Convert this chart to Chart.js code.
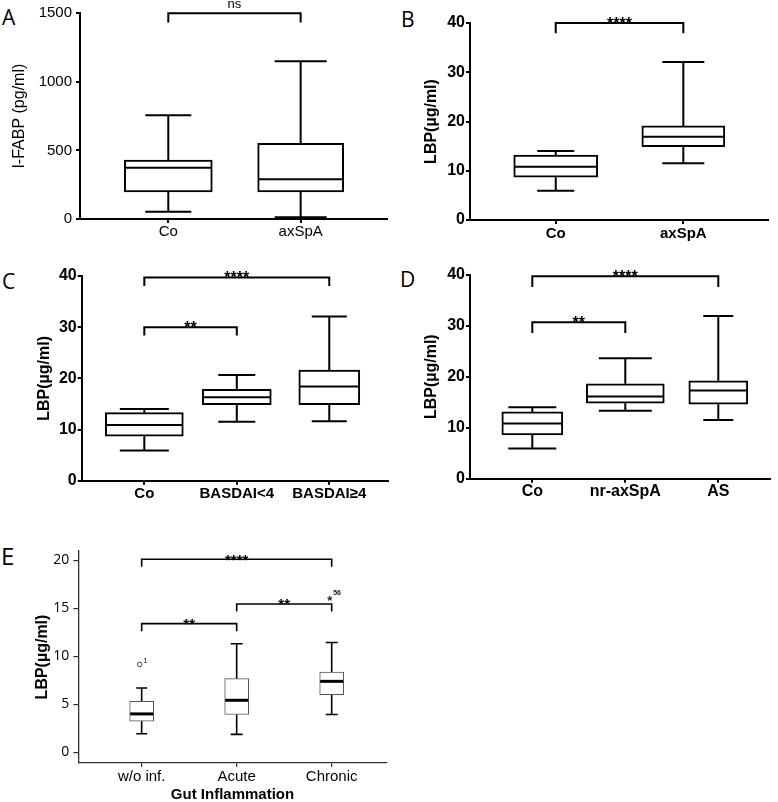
<!DOCTYPE html>
<html><head><meta charset="utf-8">
<script src="https://cdn.jsdelivr.net/npm/chart.js@4.4.1/dist/chart.umd.min.js"></script>
<style>
html,body{margin:0;padding:0;background:#fff;}
body{position:relative;width:778px;height:802px;overflow:hidden;}
.panel{position:absolute;}
.letter{position:absolute;font-family:'Open Sans',sans-serif;color:#000;line-height:1;}
</style></head><body>
<div class="letter" style="left:2px;top:7px;font-size:21px">A</div>
<div class="letter" style="left:401px;top:9px;font-size:21px">B</div>
<div class="letter" style="left:2px;top:271px;font-size:21px">C</div>
<div class="letter" style="left:400px;top:269px;font-size:21px">D</div>
<div class="letter" style="left:1px;top:544px;font-size:24px">E</div>
<script>
// ---------------- data ----------------
const catsA = ['Co', 'axSpA'];
const minA = [53, 12];
const q1A = [197, 197];
const medA = [374, 289];
const q3A = [430, 551];
const maxA = [757, 1151];
const yTicksA = [0, 500, 1000, 1500];
const sigA = [[0, 1, 1500, 'ns']];

const catsB = ['Co', 'axSpA'];
const minB = [5.95, 11.5];
const q1B = [8.7, 14.9];
const medB = [10.8, 16.9];
const q3B = [13.2, 19.1];
const maxB = [14.0, 32.1];
const yTicksB = [0, 10, 20, 30, 40];
const sigB = [[0, 1, 40, '****']];

const catsC = ['Co', 'BASDAI<4', 'BASDAI\u22654'];
const minC = [5.9, 11.5, 11.6];
const q1C = [8.7, 14.85, 14.85];
const medC = [10.9, 16.3, 18.4];
const q3C = [13.3, 17.85, 21.6];
const maxC = [14.0, 20.65, 32.1];
const yTicksC = [0, 10, 20, 30, 40];
const sigC = [[0, 2, 39.7, '****'], [0, 1, 30, '**']];

const catsD = ['Co', 'nr-axSpA', 'AS'];
const minD = [5.9, 13.3, 11.5];
const q1D = [8.6, 14.8, 14.6];
const medD = [10.8, 16.1, 17.3];
const q3D = [13.1, 18.6, 19.2];
const maxD = [14.0, 23.6, 31.9];
const yTicksD = [0, 10, 20, 30, 40];
const sigD = [[0, 2, 39.7, '****'], [0, 1, 30.7, '**']];

const catsE = ['w/o inf.', 'Acute', 'Chronic'];
const minE = [1.93, 1.87, 3.94];
const q1E = [3.25, 3.94, 6.0];
const medE = [4.0, 5.42, 7.39];
const q3E = [5.3, 7.67, 8.35];
const maxE = [6.7, 11.3, 11.43];
const yTicksE = [0, 5, 10, 15, 20];
const outCatE = [0, 2];
const outValE = [9.15, 16.1];
const outIdE = ['1', '56'];
const outShapeE = ['circle', 'star'];
const sigE = [[0, 2, 20.1, '****'], [0, 1, 13.4, '**'], [1, 2, 15.45, '**']];

// ---------------- styles / layout ----------------
const ARIAL = "'Liberation Sans', Arial, sans-serif";
const OPEN = "'Open Sans', sans-serif";

const styleA = {left:0, top:0, w:392, h:250, yW:80, padTop:13.3, padRight:5.3, xH:31,
  yMin:0, yMax:1500, yStep:500, xMin:-0.667, xMax:1.65,
  yTitle:'I-FABP (pg/ml)', yTitleFont:{family:ARIAL,size:16,weight:'normal',lineHeight:1}, yTitlePad:11.5,
  yFont:{family:ARIAL,size:15,weight:'normal',lineHeight:1}, yPad:4,
  xFont:{family:ARIAL,size:15,weight:'normal',lineHeight:1}, xPad:1,
  axisW:2, axisColor:'#000', tickW:2, tickLen:4, yTickLen:4,
  boxW:[88, 86], capW:[46, 52], boxLW:2, boxColor:'#000', whiskerLW:2, medianLW:2,
  sigLW:2, drop:9.3, starFont:'bold 16px '+ARIAL, nsFont:'13px '+ARIAL};

const styleB = {left:390, top:0, w:388, h:250, yW:80, padTop:23, padRight:9.7, xH:30,
  yMin:0, yMax:40, yStep:10, xMin:-0.672, xMax:1.666,
  yTitle:'LBP(\u00b5g/ml)', yTitleFont:{family:ARIAL,size:16,weight:'bold',lineHeight:1}, yTitlePad:33.7,
  yFont:{family:ARIAL,size:16,weight:'bold',lineHeight:1}, yPad:1,
  xFont:{family:ARIAL,size:15,weight:'bold',lineHeight:1}, xPad:2.5,
  axisW:2, axisColor:'#000', tickW:2, tickLen:4, yTickLen:4,
  boxW:[84, 83], capW:[37, 42], boxLW:2, boxColor:'#000', whiskerLW:2, medianLW:2,
  sigLW:2, drop:10.3, starFont:'bold 16px '+ARIAL, nsFont:'13px '+ARIAL};

const styleC = {left:0, top:250, w:392, h:255, yW:81.7, padTop:26, padRight:4, xH:24.3,
  yMin:0, yMax:40, yStep:10, xMin:-0.677, xMax:2.635,
  yTitle:'LBP(\u00b5g/ml)', yTitleFont:{family:ARIAL,size:16,weight:'bold',lineHeight:1}, yTitlePad:36.7,
  yFont:{family:ARIAL,size:16,weight:'bold',lineHeight:1}, yPad:1,
  xFont:{family:ARIAL,size:15,weight:'bold',lineHeight:1}, xPad:1.8,
  axisW:2, axisColor:'#000', tickW:2, tickLen:4, yTickLen:4,
  boxW:[78, 69, 61], capW:[49, 37, 35], boxLW:2, boxColor:'#000', whiskerLW:2, medianLW:2,
  sigLW:2, drop:8.4, starFont:'bold 16px '+ARIAL, nsFont:'13px '+ARIAL};

const styleD = {left:390, top:250, w:388, h:255, yW:80, padTop:24.7, padRight:8, xH:26.3,
  yMin:0, yMax:40, yStep:10, xMin:-0.67, xMax:2.556,
  yTitle:'LBP(\u00b5g/ml)', yTitleFont:{family:ARIAL,size:16,weight:'bold',lineHeight:1}, yTitlePad:33.7,
  yFont:{family:ARIAL,size:16,weight:'bold',lineHeight:1}, yPad:1,
  xFont:{family:ARIAL,size:16,weight:'bold',lineHeight:1}, xPad:0.5,
  axisW:2, axisColor:'#000', tickW:2, tickLen:4, yTickLen:4,
  boxW:[61, 78, 59], capW:[48, 53, 30], boxLW:2, boxColor:'#000', whiskerLW:2, medianLW:2,
  sigLW:2, drop:10.8, starFont:'bold 16px '+ARIAL, nsFont:'13px '+ARIAL};

const styleE = {left:0, top:540, w:392, h:262, yW:78.3, padTop:10, padRight:5.3, xH:39,
  yMin:-1.11, yMax:20.96, yStep:5, xMin:-0.667, xMax:2.579,
  yTitle:'LBP(\u00b5g/ml)', yTitleFont:{family:ARIAL,size:16,weight:'bold',lineHeight:1}, yTitlePad:34.5,
  yFont:{family:OPEN,size:14,weight:'normal',lineHeight:1}, yPad:4,
  xFont:{family:ARIAL,size:15,weight:'normal',lineHeight:1}, xPad:2,
  xTitle:'Gut Inflammation', xTitleFont:{family:ARIAL,size:15,weight:'bold',lineHeight:1}, xTitlePad:0,
  axisW:1.3, axisColor:'#333', tickW:1.2, tickLen:4, yTickLen:5,
  boxW:[24, 24, 24], capW:[11, 12, 12], boxLW:1, boxColor:'#555', whiskerLW:1.6, medianLW:3,
  sigLW:1.6, drop:7.6, starFont:'bold 15px '+ARIAL, nsFont:'13px '+ARIAL};

// ---------------- plotting ----------------
function boxPlugin(P, S) {
  return {
    id: 'boxplot' + P.id,
    beforeDatasetsDraw(chart) {
      const ctx = chart.ctx, xs = chart.scales.x, ys = chart.scales.y;
      ctx.save();
      ctx.strokeStyle = '#000';
      ctx.lineWidth = S.whiskerLW;
      P.cats.forEach((c, i) => {
        const x = xs.getPixelForValue(i);
        const yMax = ys.getPixelForValue(P.max[i]);
        const yQ3 = ys.getPixelForValue(P.q3[i]);
        const yQ1 = ys.getPixelForValue(P.q1[i]);
        const yMin = ys.getPixelForValue(P.min[i]);
        const hw = S.capW[i] / 2;
        ctx.beginPath();
        ctx.moveTo(x, yMax); ctx.lineTo(x, yQ3);
        ctx.moveTo(x, yQ1); ctx.lineTo(x, yMin);
        ctx.moveTo(x - hw, yMax); ctx.lineTo(x + hw, yMax);
        ctx.moveTo(x - hw, yMin); ctx.lineTo(x + hw, yMin);
        ctx.stroke();
      });
      ctx.restore();
    },
    afterDatasetsDraw(chart) {
      const ctx = chart.ctx, xs = chart.scales.x, ys = chart.scales.y;
      ctx.save();
      // medians
      ctx.strokeStyle = '#000';
      ctx.lineWidth = S.medianLW;
      P.cats.forEach((c, i) => {
        const x = xs.getPixelForValue(i);
        const y = ys.getPixelForValue(P.med[i]);
        const hw = S.boxW[i] / 2 - 0.5;
        ctx.beginPath();
        ctx.moveTo(x - hw, y); ctx.lineTo(x + hw, y);
        ctx.stroke();
      });
      // significance brackets
      ctx.lineWidth = S.sigLW;
      ctx.lineJoin = 'miter';
      P.sig.forEach(([a, b, level, text]) => {
        const xa = xs.getPixelForValue(a), xb = xs.getPixelForValue(b);
        const y = ys.getPixelForValue(level);
        ctx.beginPath();
        ctx.moveTo(xa, y + S.drop); ctx.lineTo(xa, y); ctx.lineTo(xb, y); ctx.lineTo(xb, y + S.drop);
        ctx.stroke();
        ctx.fillStyle = '#000';
        ctx.textAlign = 'center';
        ctx.textBaseline = 'alphabetic';
        if (text === 'ns') {
          ctx.font = S.nsFont;
          ctx.fillText(text, (xa + xb) / 2, y - 5.5);
        } else {
          ctx.font = S.starFont;
          ctx.fillText(text, (xa + xb) / 2, y + 5.5);
        }
      });
      // outliers
      if (P.outCat) {
        P.outCat.forEach((ci, k) => {
          const x = xs.getPixelForValue(ci);
          const y = ys.getPixelForValue(P.outVal[k]);
          ctx.fillStyle = '#222';
          ctx.strokeStyle = '#444';
          ctx.lineWidth = 1;
          if (P.outShape[k] === 'circle') {
            ctx.beginPath();
            ctx.arc(x - 2, y, 2.3, 0, Math.PI * 2);
            ctx.stroke();
            ctx.font = '8px ' + ARIAL;
            ctx.textAlign = 'left';
            ctx.textBaseline = 'alphabetic';
            ctx.fillText(P.outId[k], x + 1.5, y - 1.5);
          } else {
            ctx.font = 'bold 13px ' + ARIAL;
            ctx.textAlign = 'center';
            ctx.textBaseline = 'alphabetic';
            ctx.fillText('*', x - 2, y + 7.2);
            ctx.font = 'bold 7px ' + ARIAL;
            ctx.textAlign = 'left';
            ctx.fillText(P.outId[k], x + 1.5, y - 2.5);
          }
        });
      }
      ctx.restore();
    }
  };
}

function makeChart(P, S) {
  const wrap = document.createElement('div');
  wrap.className = 'panel';
  wrap.style.left = S.left + 'px';
  wrap.style.top = S.top + 'px';
  wrap.style.width = S.w + 'px';
  wrap.style.height = S.h + 'px';
  const cv = document.createElement('canvas');
  cv.width = S.w; cv.height = S.h;
  cv.style.width = S.w + 'px'; cv.style.height = S.h + 'px';
  wrap.appendChild(cv);
  document.body.appendChild(wrap);

  const datasets = P.cats.map((c, k) => ({
    label: c,
    data: P.cats.map((_, i) => ({x: i, y: i === k ? [P.q1[i], P.q3[i]] : null})),
    backgroundColor: '#fff',
    borderColor: S.boxColor,
    borderWidth: S.boxLW,
    borderSkipped: false,
    barThickness: S.boxW[k],
    skipNull: true
  }));

  const grid = (len) => ({display: true, offset: false, drawOnChartArea: false, drawTicks: true, tickLength: len,
    color: S.axisColor, lineWidth: S.tickW, tickColor: S.axisColor, tickWidth: S.tickW});

  new Chart(cv, {
    type: 'bar',
    data: {datasets},
    options: {
      responsive: false,
      animation: false,
      events: [],
      layout: {padding: {left: 0, top: S.padTop, right: S.padRight, bottom: 0}},
      plugins: {legend: {display: false}, tooltip: {enabled: false}, title: {display: false}},
      scales: {
        x: {
          type: 'linear', min: S.xMin, max: S.xMax, offset: false,
          afterBuildTicks: s => { s.ticks = P.cats.map((_, i) => ({value: i})); },
          afterFit: s => { s.height = S.xH; },
          ticks: {stepSize: 1, includeBounds: false,
            callback: v => (P.cats[v] !== undefined ? P.cats[v] : ''), color: '#000', font: S.xFont, padding: S.xPad,
            maxRotation: 0, minRotation: 0, autoSkip: false},
          grid: grid(S.tickLen),
          border: {display: true, color: S.axisColor, width: S.axisW},
          title: S.xTitle ? {display: true, text: S.xTitle, color: '#000', font: S.xTitleFont,
            padding: {top: 0, bottom: S.xTitlePad}} : {display: false}
        },
        y: {
          type: 'linear', min: S.yMin, max: S.yMax,
          afterBuildTicks: s => { s.ticks = P.yTicks.map(v => ({value: v})); },
          afterFit: s => { s.width = S.yW; },
          ticks: {stepSize: S.yStep, includeBounds: false,
            callback: v => String(v), color: '#000', font: S.yFont, padding: S.yPad},
          grid: grid(S.yTickLen),
          border: {display: true, color: S.axisColor, width: S.axisW},
          title: {display: true, text: S.yTitle, color: '#000', font: S.yTitleFont,
            padding: {top: S.yTitlePad, bottom: 0}}
        }
      }
    },
    plugins: [boxPlugin(P, S)]
  });
}

makeChart({id:'A', cats:catsA, min:minA, q1:q1A, med:medA, q3:q3A, max:maxA, yTicks:yTicksA, sig:sigA}, styleA);
makeChart({id:'B', cats:catsB, min:minB, q1:q1B, med:medB, q3:q3B, max:maxB, yTicks:yTicksB, sig:sigB}, styleB);
makeChart({id:'C', cats:catsC, min:minC, q1:q1C, med:medC, q3:q3C, max:maxC, yTicks:yTicksC, sig:sigC}, styleC);
makeChart({id:'D', cats:catsD, min:minD, q1:q1D, med:medD, q3:q3D, max:maxD, yTicks:yTicksD, sig:sigD}, styleD);
makeChart({id:'E', cats:catsE, min:minE, q1:q1E, med:medE, q3:q3E, max:maxE, yTicks:yTicksE, sig:sigE,
  outCat:outCatE, outVal:outValE, outId:outIdE, outShape:outShapeE}, styleE);
</script>
</body></html>
